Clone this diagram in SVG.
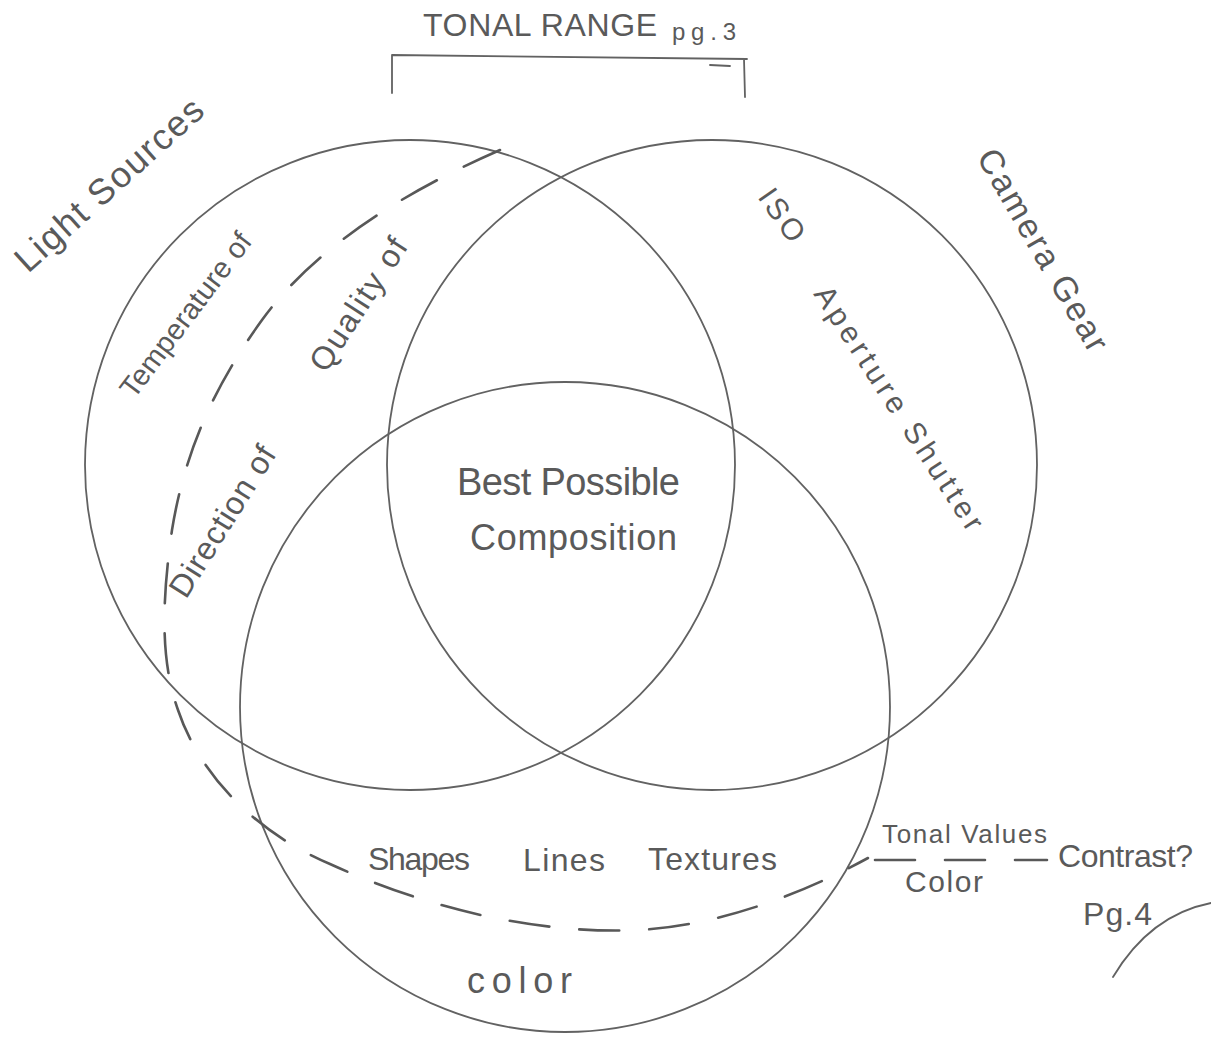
<svg xmlns="http://www.w3.org/2000/svg" width="1211" height="1038" viewBox="0 0 1211 1038">
<style>
.pen{fill:none;stroke:#626262;stroke-width:1.8;stroke-linecap:round;stroke-linejoin:round}
.dash{fill:none;stroke:#585858;stroke-width:2.6;stroke-linecap:round;stroke-dasharray:40 30}
.t{font-family:"Liberation Sans",Arial,sans-serif;fill:#5a5a5a}
</style>
<rect width="1211" height="1038" fill="#ffffff"/>

<g id="tonal-range">
<text class="t" x="423" y="36" font-size="32" textLength="234">TONAL RANGE</text>
<text class="t" x="672" y="40" font-size="24" textLength="64">pg.3</text>
<path class="pen" d="M392,93 L392,55 L747,59 M744,59 L745,97 M710,65 L730,66"/>
</g>

<g id="light-sources">
<circle class="pen" cx="410" cy="465" r="325"/>
<text class="t" font-size="36" textLength="240" transform="translate(28,274) rotate(-42)">Light Sources</text>
<text class="t" font-size="29" textLength="198" transform="translate(134,400) rotate(-53)">Temperature of</text>
<text class="t" font-size="32" textLength="152" transform="translate(326,374) rotate(-57)">Quality of</text>
<text class="t" font-size="32" textLength="172" transform="translate(186,600) rotate(-58)">Direction of</text>
</g>

<g id="camera-gear">
<circle class="pen" cx="712" cy="465" r="325"/>
<text class="t" font-size="34" textLength="228" transform="translate(976,157) rotate(60)">Camera Gear</text>
<text class="t" font-size="30" textLength="58" transform="translate(757,197) rotate(55)">ISO</text>
<text class="t" font-size="30" textLength="285" transform="translate(813,294) rotate(57)">Aperture  Shutter</text>
</g>

<g id="composition">
<circle class="pen" cx="565" cy="707" r="325"/>
<text class="t" x="368" y="870" font-size="32" textLength="102">Shapes</text>
<text class="t" x="523" y="871" font-size="32" textLength="82">Lines</text>
<text class="t" x="648" y="870" font-size="32" textLength="129">Textures</text>
<text class="t" x="467" y="993" font-size="36" textLength="105">color</text>
</g>

<g id="best-possible">
<text class="t" x="457" y="495" font-size="38" textLength="223">Best Possible</text>
<text class="t" x="470" y="550" font-size="36" textLength="207">Composition</text>
</g>

<g id="tonal-values">
<text class="t" x="882" y="843" font-size="26" textLength="165">Tonal Values</text>
<text class="t" x="905" y="892" font-size="30" textLength="78">Color</text>
<text class="t" x="1058" y="867" font-size="32" textLength="135">Contrast?</text>
<text class="t" x="1083" y="925" font-size="32" textLength="69">Pg.4</text>
<path class="pen" d="M1113,977 Q1150,915 1211,903" stroke-width="1.2"/>
</g>

<g id="connectors">
<path class="dash" d="M500,150 C420,185 320,240 262,320 C215,385 185,450 172,530 C162,600 160,660 178,710 C198,770 250,830 330,864 C420,905 530,935 640,930 C720,925 800,895 868,858"/>
<path class="dash" d="M875,860 L1047,860" stroke-dasharray="32 14"/>
</g>
</svg>
